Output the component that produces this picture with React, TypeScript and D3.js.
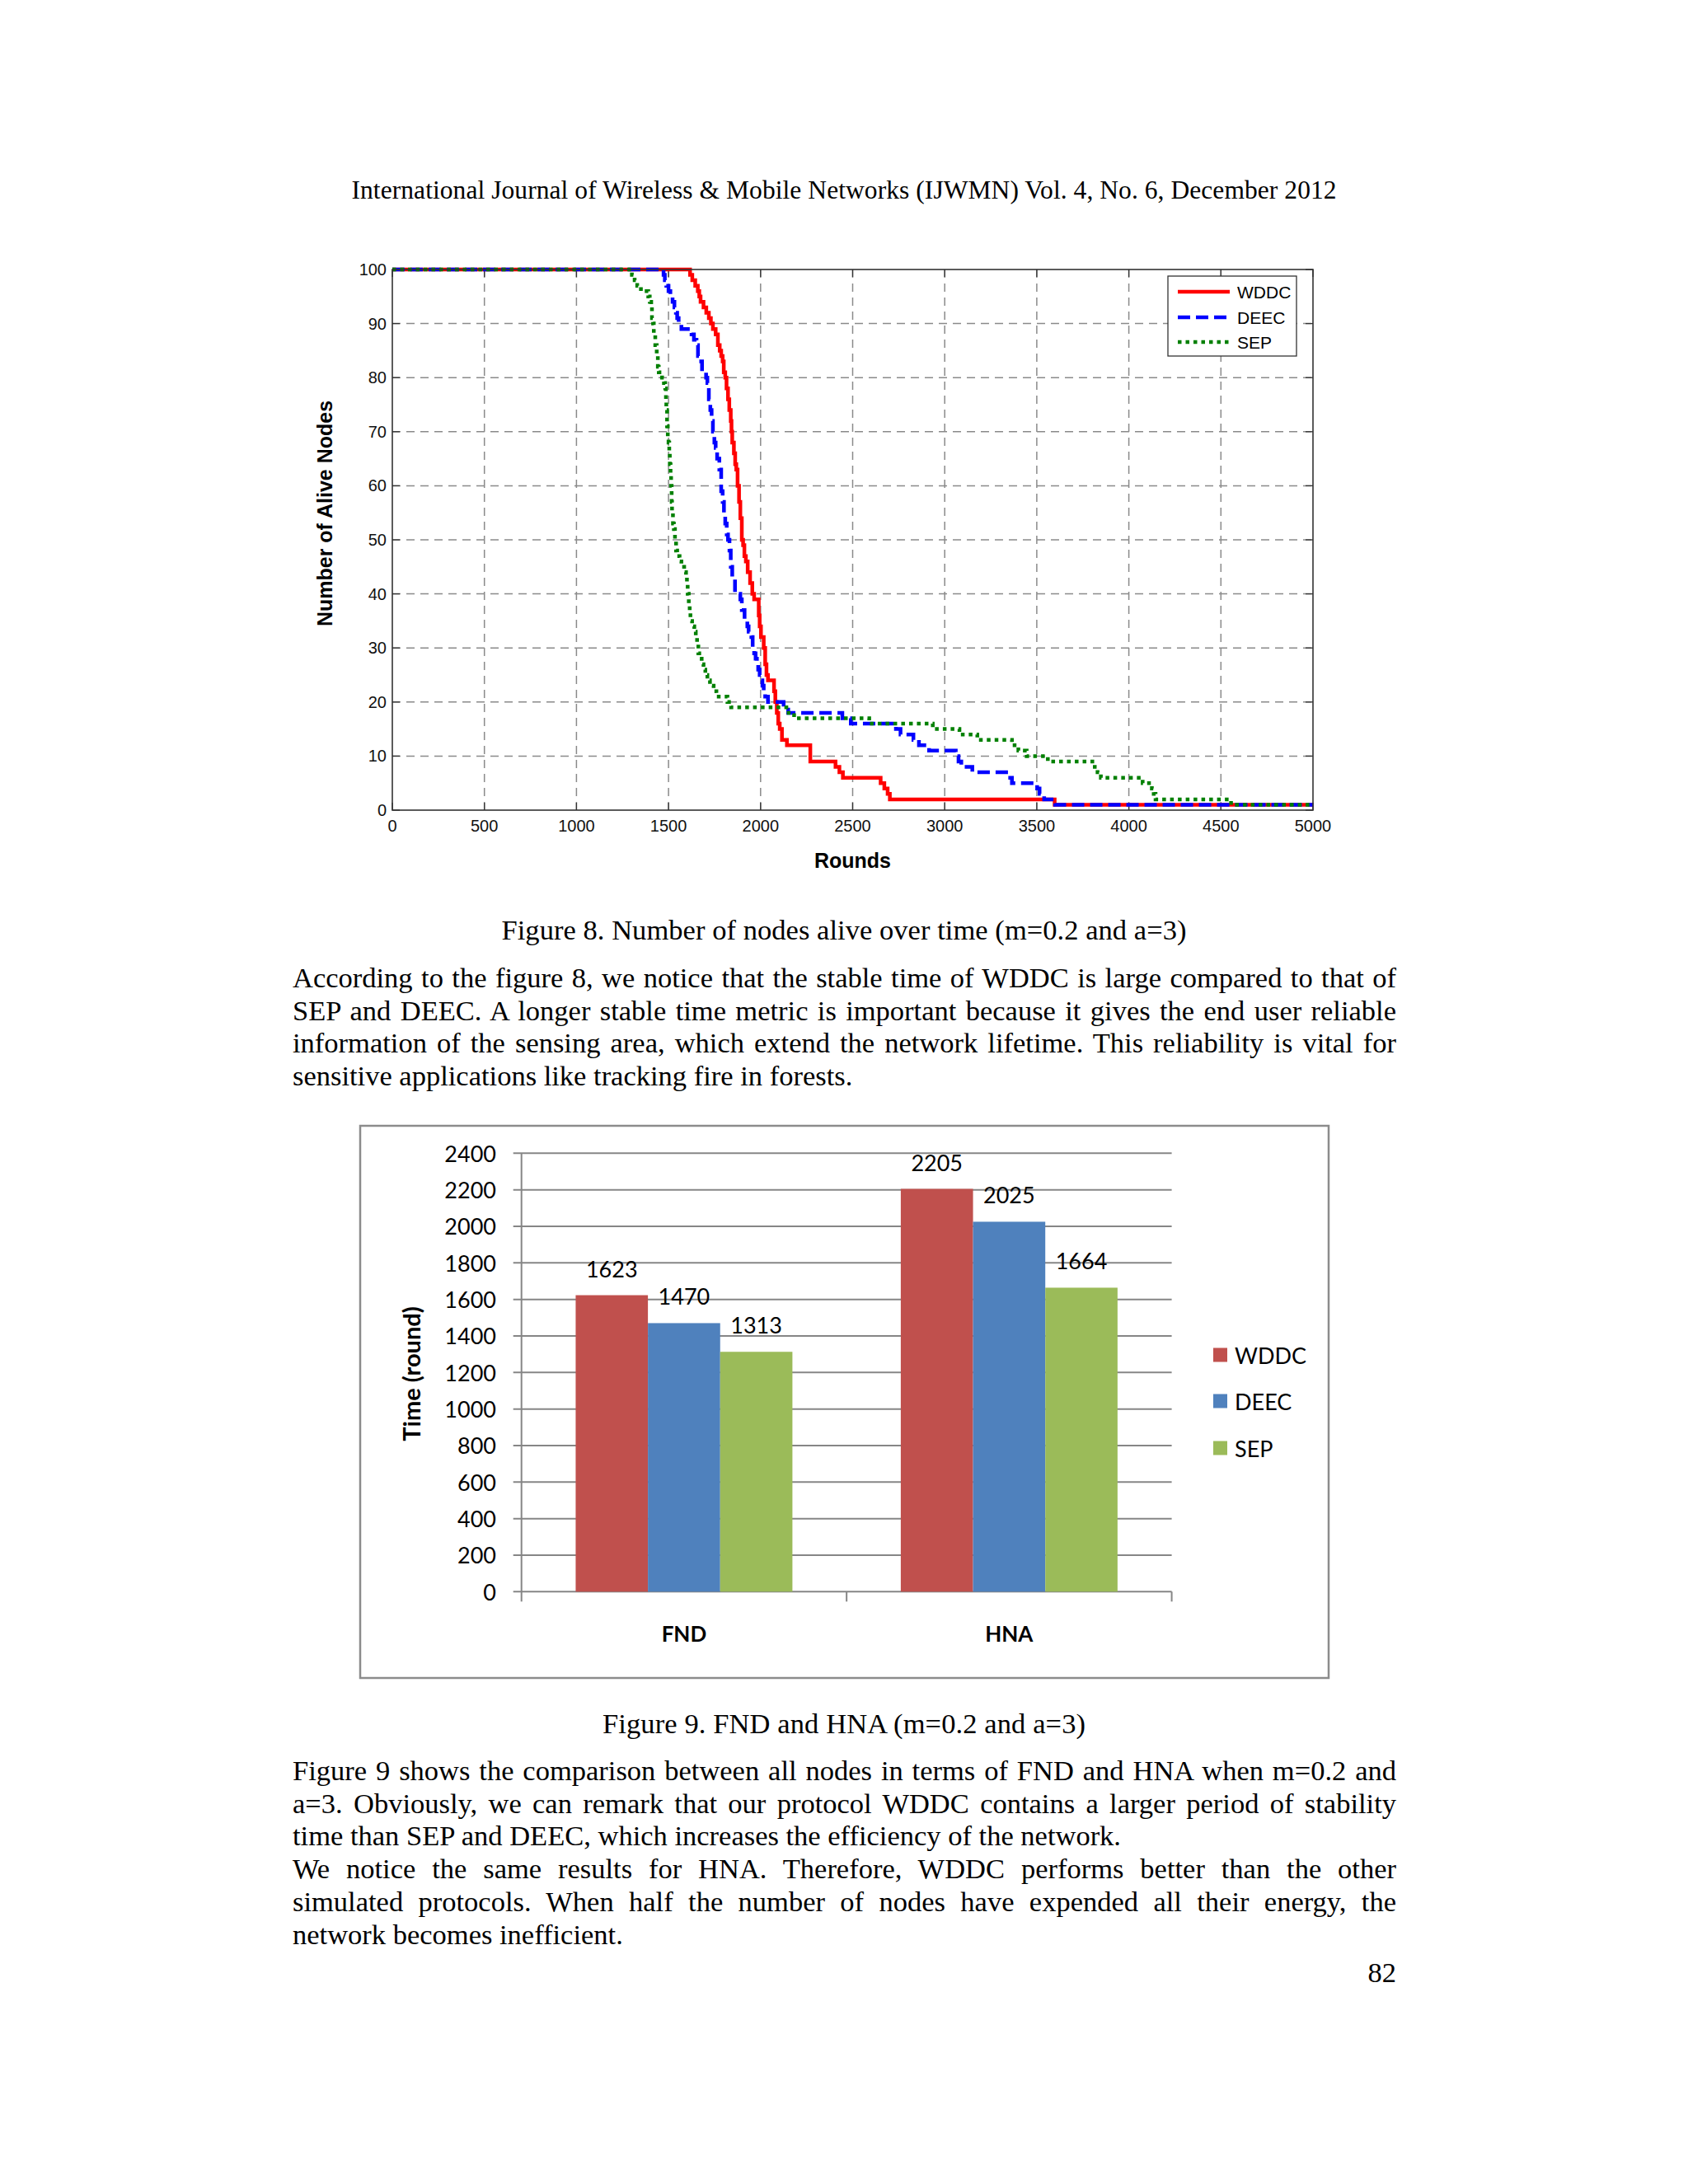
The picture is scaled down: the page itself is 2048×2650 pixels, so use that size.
import React, { useLayoutEffect, useRef, useState } from "react";
import * as d3 from "d3";

// ---- Figure 8: alive nodes over rounds (step series, [round, alive]) ----
const wddcSteps: [number, number][] = [
  [0, 100], [1617, 99], [1629, 98], [1645, 97], [1659, 96], [1667, 95], [1674, 94],
  [1690, 93], [1705, 92], [1719, 91], [1730, 90], [1741, 89], [1756, 88], [1768, 86],
  [1778, 85], [1786, 84], [1794, 83], [1800, 81], [1808, 80], [1815, 78], [1823, 76],
  [1830, 74], [1838, 72], [1842, 70], [1846, 68], [1855, 66], [1862, 64], [1868, 63],
  [1875, 60], [1883, 57], [1890, 54], [1898, 50], [1905, 49], [1912, 47], [1920, 46],
  [1930, 44], [1943, 42], [1955, 40], [1965, 39], [1990, 36], [1995, 34], [2002, 32],
  [2017, 30], [2025, 27], [2032, 25], [2040, 24], [2073, 22], [2080, 20], [2088, 18],
  [2096, 16], [2104, 15], [2116, 13], [2143, 12], [2270, 9], [2407, 8], [2428, 7],
  [2447, 6], [2652, 5], [2672, 4], [2690, 3], [2702, 2], [3597, 1], [5000, 1],
];

const deecSteps: [number, number][] = [
  [0, 100], [1473, 99], [1480, 98], [1488, 97], [1500, 96], [1510, 95], [1522, 94],
  [1532, 93], [1540, 92], [1547, 91], [1555, 90], [1570, 89], [1625, 88], [1638, 87],
  [1652, 86], [1660, 84], [1667, 83], [1682, 81], [1704, 80], [1711, 79], [1719, 76],
  [1727, 74], [1734, 72], [1741, 70], [1749, 68], [1756, 67], [1764, 65], [1776, 63],
  [1786, 59], [1794, 57], [1801, 55], [1808, 53], [1816, 51], [1823, 50], [1831, 48],
  [1838, 45], [1846, 43], [1861, 40], [1890, 39], [1898, 37], [1913, 35], [1928, 34],
  [1935, 33], [1950, 32], [1957, 30], [1965, 29], [1973, 28], [1980, 27], [1987, 26],
  [1995, 25], [2002, 24], [2010, 23], [2017, 22], [2025, 21], [2040, 20], [2125, 19],
  [2150, 18], [2444, 17], [2490, 16], [2735, 15], [2760, 14], [2830, 13], [2860, 12],
  [2915, 11], [3060, 10], [3075, 9], [3090, 8], [3150, 7], [3345, 6], [3365, 5],
  [3502, 4], [3515, 3], [3540, 2], [3600, 1], [5000, 1],
];

const sepSteps: [number, number][] = [
  [0, 100], [1301, 99], [1316, 98], [1330, 97], [1350, 96], [1390, 95], [1398, 94],
  [1406, 93], [1410, 91], [1416, 90], [1420, 88], [1428, 86], [1436, 84], [1442, 82],
  [1447, 81], [1465, 80], [1475, 79], [1482, 78], [1486, 76], [1488, 74], [1492, 71],
  [1496, 69], [1500, 68], [1504, 66], [1507, 64], [1511, 62], [1514, 60], [1517, 57],
  [1519, 55], [1524, 53], [1529, 52], [1535, 50], [1541, 48], [1547, 47], [1560, 46],
  [1570, 45], [1585, 44], [1595, 43], [1600, 42], [1604, 40], [1610, 38], [1615, 37],
  [1619, 35], [1628, 34], [1640, 33], [1648, 32], [1655, 31], [1662, 29], [1667, 28],
  [1680, 27], [1690, 26], [1700, 25], [1711, 24], [1725, 23], [1745, 22], [1760, 21],
  [1820, 20], [1840, 19], [2140, 18], [2182, 17], [2590, 16], [2935, 15], [3080, 14],
  [3177, 13], [3365, 12], [3400, 11], [3445, 10], [3560, 9], [3815, 8], [3830, 7],
  [3848, 6], [4075, 5], [4125, 4], [4135, 3], [4145, 2], [4555, 1], [5000, 1],
];

const roundTicks = [0, 500, 1000, 1500, 2000, 2500, 3000, 3500, 4000, 4500, 5000];
const nodeTicks = [0, 10, 20, 30, 40, 50, 60, 70, 80, 90, 100];

// ---- Figure 9: FND and HNA ----
const metrics = ["FND", "HNA"];
const protocols = ["WDDC", "DEEC", "SEP"];
const wddcTimes = [1623, 2205];
const deecTimes = [1470, 2025];
const sepTimes = [1313, 1664];
const timeTicks = [0, 200, 400, 600, 800, 1000, 1200, 1400, 1600, 1800, 2000, 2200, 2400];

// ---- page text ----
const headerText =
  "International Journal of Wireless & Mobile Networks (IJWMN) Vol. 4, No. 6, December 2012";
const caption8 = "Figure 8. Number of nodes alive over time (m=0.2 and a=3)";
const caption9 = "Figure 9. FND and HNA (m=0.2 and a=3)";
const para1 = [
  "According to the figure 8, we notice that the stable time of WDDC is large compared to that of",
  "SEP and DEEC. A longer stable time metric is important because it gives the end user reliable",
  "information of the sensing area, which extend the network lifetime. This reliability is vital for",
  "sensitive applications like tracking fire in forests.",
];
const para2 = [
  "Figure 9 shows the comparison between all nodes in terms of FND and HNA when m=0.2 and",
  "a=3. Obviously, we can remark that our protocol WDDC contains a larger period of stability",
  "time than SEP and DEEC, which increases the efficiency of the network.",
  "We notice the same results for HNA. Therefore, WDDC performs better than the other",
  "simulated protocols. When half the number of nodes have expended all their energy, the",
  "network becomes inefficient.",
];
const pageNumber = "82";

const SERIF = "'Liberation Serif', 'Times New Roman', 'DejaVu Serif', serif";
const SANS = "'Liberation Sans', Arial, Helvetica, sans-serif";
const CAL = "Lato, 'Open Sans', sans-serif";

const TEXT_LEFT = 355;
const TEXT_WIDTH = 1339;
const LINE_GAP = 39.7;

// justified line: stretch word spacing so the line fills the text block
const JustLine: React.FC<{ x: number; y: number; width: number; text: string }> = ({
  x,
  y,
  width,
  text,
}) => {
  const ref = useRef<SVGTextElement>(null);
  const [ws, setWs] = useState(0);
  useLayoutEffect(() => {
    const el = ref.current;
    if (!el) return;
    const natural = el.getComputedTextLength();
    const spaces = (text.match(/ /g) || []).length;
    if (spaces) setWs((width - natural) / spaces);
  }, [text, width]);
  return (
    <text ref={ref} x={x} y={y} style={{ wordSpacing: `${ws}px` }}>
      {text}
    </text>
  );
};

const Paragraph: React.FC<{ lines: string[]; top: number; short: number[] }> = ({
  lines,
  top,
  short,
}) => (
  <g fontFamily={SERIF} fontSize={34.5} fill="#000">
    {lines.map((t, i) =>
      short.includes(i) ? (
        <text key={i} x={TEXT_LEFT} y={top + i * LINE_GAP}>
          {t}
        </text>
      ) : (
        <JustLine key={i} x={TEXT_LEFT} y={top + i * LINE_GAP} width={TEXT_WIDTH} text={t} />
      )
    )}
  </g>
);

const AliveChart: React.FC = () => {
  const L = { left: 476, right: 1593, top: 327, bottom: 983 };
  const x = d3.scaleLinear().domain([0, 5000]).range([L.left, L.right]);
  const y = d3.scaleLinear().domain([0, 100]).range([L.bottom, L.top]);
  const stepLine = d3
    .line<[number, number]>()
    .x((d) => x(d[0]))
    .y((d) => y(d[1]))
    .curve(d3.curveStepAfter);

  const series = [
    { name: "WDDC", data: wddcSteps, color: "#ff0000", dash: "none" },
    { name: "DEEC", data: deecSteps, color: "#0000ff", dash: "15 7" },
    { name: "SEP", data: sepSteps, color: "#008000", dash: "4.5 5" },
  ];
  const tickLen = 9;
  const legend = { x: 1417, y: 335, w: 156, h: 97 };
  const legendRows = [354, 385, 415];

  return (
    <g>
      {/* grid */}
      <g stroke="#8a8a8a" strokeWidth={1.5} strokeDasharray="10 7">
        {roundTicks.slice(1, -1).map((t) => (
          <line key={t} x1={x(t)} x2={x(t)} y1={L.top} y2={L.bottom} />
        ))}
        {nodeTicks.slice(1, -1).map((t) => (
          <line key={t} x1={L.left} x2={L.right} y1={y(t)} y2={y(t)} />
        ))}
      </g>
      {/* inside tick marks */}
      <g stroke="#333" strokeWidth={1.3}>
        {roundTicks.map((t) => (
          <g key={t}>
            <line x1={x(t)} x2={x(t)} y1={L.bottom} y2={L.bottom - tickLen} />
            <line x1={x(t)} x2={x(t)} y1={L.top} y2={L.top + tickLen} />
          </g>
        ))}
        {nodeTicks.map((t) => (
          <g key={t}>
            <line x1={L.left} x2={L.left + tickLen} y1={y(t)} y2={y(t)} />
            <line x1={L.right} x2={L.right - tickLen} y1={y(t)} y2={y(t)} />
          </g>
        ))}
      </g>
      {/* series */}
      {series.map((s) => (
        <path
          key={s.name}
          d={stepLine(s.data) ?? ""}
          fill="none"
          stroke={s.color}
          strokeWidth={4.5}
          strokeDasharray={s.dash}
          strokeLinejoin="miter"
        />
      ))}
      <rect
        x={L.left}
        y={L.top}
        width={L.right - L.left}
        height={L.bottom - L.top}
        fill="none"
        stroke="#333"
        strokeWidth={1.6}
      />
      {/* axis labels */}
      <g fontFamily={SANS} fontSize={20} fill="#111">
        {roundTicks.map((t) => (
          <text key={t} x={x(t)} y={L.bottom + 26} textAnchor="middle">
            {t}
          </text>
        ))}
        {nodeTicks.map((t) => (
          <text key={t} x={L.left - 7} y={y(t) + 7} textAnchor="end">
            {t}
          </text>
        ))}
      </g>
      <text
        x={(L.left + L.right) / 2}
        y={1053}
        textAnchor="middle"
        fontFamily={SANS}
        fontWeight="bold"
        fontSize={25}
      >
        Rounds
      </text>
      <text
        transform={`translate(394,${(L.top + L.bottom) / 2 - 32}) rotate(-90)`}
        textAnchor="middle"
        dominantBaseline="central"
        fontFamily={SANS}
        fontWeight="bold"
        fontSize={25}
      >
        Number of Alive Nodes
      </text>
      {/* legend */}
      <rect
        x={legend.x}
        y={legend.y}
        width={legend.w}
        height={legend.h}
        fill="#fff"
        stroke="#333"
        strokeWidth={1.3}
      />
      {series.map((s, i) => (
        <g key={s.name}>
          <line
            x1={1429}
            x2={1492}
            y1={legendRows[i]}
            y2={legendRows[i]}
            stroke={s.color}
            strokeWidth={4.5}
            strokeDasharray={s.dash}
          />
          <text x={1501} y={legendRows[i] + 7.5} fontFamily={SANS} fontSize={21}>
            {s.name}
          </text>
        </g>
      ))}
    </g>
  );
};

const TimeChart: React.FC = () => {
  const P = { left: 632.7, right: 1421.6, top: 1399.3, bottom: 1931.3 };
  const y = d3.scaleLinear().domain([0, 2400]).range([P.bottom, P.top]);
  const xCat = d3.scaleBand().domain(metrics).range([P.left, P.right]);
  const xSer = d3
    .scaleBand()
    .domain(protocols)
    .range([0, xCat.bandwidth()])
    .paddingOuter(0.75);
  const values: Record<string, number[]> = {
    WDDC: wddcTimes,
    DEEC: deecTimes,
    SEP: sepTimes,
  };
  const colors: Record<string, string> = {
    WDDC: "#C0504D",
    DEEC: "#4F81BD",
    SEP: "#9BBB59",
  };
  const axisColor = "#868686";
  const legendRows = [1644, 1700, 1757];

  return (
    <g>
      <rect x={437} y={1366} width={1175} height={670} fill="none" stroke="#8c8c8c" strokeWidth={2.5} />
      <g stroke={axisColor} strokeWidth={2}>
        {timeTicks.map((t) => (
          <line key={t} x1={P.left - 10} x2={P.right} y1={y(t)} y2={y(t)} />
        ))}
        <line x1={P.left} x2={P.left} y1={P.top} y2={P.bottom} />
        {[P.left, P.left + xCat.bandwidth(), P.right].map((v) => (
          <line key={v} x1={v} x2={v} y1={P.bottom} y2={P.bottom + 12} />
        ))}
      </g>
      {metrics.map((m, mi) => (
        <g key={m} transform={`translate(${xCat(m)},0)`}>
          {protocols.map((p) => {
            const v = values[p][mi];
            const bx = xSer(p) ?? 0;
            return (
              <g key={p}>
                <rect
                  x={bx}
                  y={y(v)}
                  width={xSer.bandwidth()}
                  height={P.bottom - y(v)}
                  fill={colors[p]}
                />
                <text
                  x={bx + xSer.bandwidth() / 2}
                  y={y(v) - 22}
                  textAnchor="middle"
                  fontFamily={CAL}
                  fontSize={27}
                >
                  {v}
                </text>
              </g>
            );
          })}
          <text
            x={xCat.bandwidth() / 2}
            y={1992}
            textAnchor="middle"
            fontFamily={CAL}
            fontWeight="bold"
            fontSize={26}
          >
            {m}
          </text>
        </g>
      ))}
      <g fontFamily={CAL} fontSize={27} fill="#000">
        {timeTicks.map((t) => (
          <text key={t} x={602} y={y(t)} textAnchor="end" dominantBaseline="central">
            {t}
          </text>
        ))}
      </g>
      <text
        transform="translate(498,1667) rotate(-90)"
        textAnchor="middle"
        dominantBaseline="central"
        fontFamily={CAL}
        fontWeight="bold"
        fontSize={29}
      >
        Time (round)
      </text>
      {protocols.map((p, i) => (
        <g key={p}>
          <rect x={1472} y={legendRows[i] - 8.5} width={17} height={17} fill={colors[p]} />
          <text
            x={1498}
            y={legendRows[i]}
            dominantBaseline="central"
            fontFamily={CAL}
            fontSize={27}
          >
            {p}
          </text>
        </g>
      ))}
    </g>
  );
};

export default function App() {
  return (
    <svg
      width={2048}
      height={2650}
      viewBox="0 0 2048 2650"
      style={{ position: "absolute", left: 0, top: 0, display: "block", background: "#fff" }}
    >
      <rect width={2048} height={2650} fill="#fff" />
      <text
        x={1024}
        y={241}
        textAnchor="middle"
        fontFamily={SERIF}
        fontSize={31.5}
        textLength={1195}
        lengthAdjust="spacing"
      >
        {headerText}
      </text>
      <AliveChart />
      <text
        x={1024}
        y={1140}
        textAnchor="middle"
        fontFamily={SERIF}
        fontSize={34.5}
        textLength={831}
        lengthAdjust="spacing"
      >
        {caption8}
      </text>
      <Paragraph lines={para1} top={1198} short={[3]} />
      <TimeChart />
      <text
        x={1024}
        y={2103}
        textAnchor="middle"
        fontFamily={SERIF}
        fontSize={34.5}
        textLength={586}
        lengthAdjust="spacing"
      >
        {caption9}
      </text>
      <Paragraph lines={para2} top={2160} short={[2, 5]} />
      <text x={1694} y={2405} textAnchor="end" fontFamily={SERIF} fontSize={34.5}>
        {pageNumber}
      </text>
    </svg>
  );
}
